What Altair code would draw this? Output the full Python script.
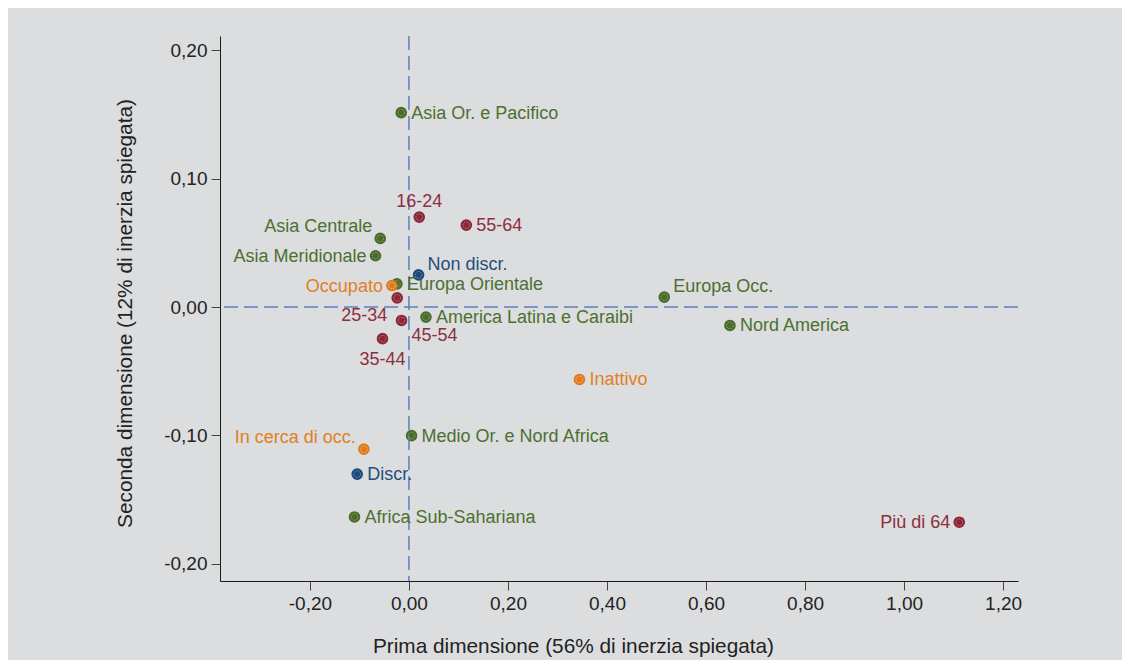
import altair as alt
import pandas as pd

# ---- data ----
labels = [
    "Asia Or. e Pacifico", "16-24", "55-64", "Asia Centrale", "Asia Meridionale",
    "Non discr.", "Europa Orientale", "Occupato", "25-34", "America Latina e Caraibi",
    "45-54", "35-44", "Europa Occ.", "Nord America", "Inattivo",
    "In cerca di occ.", "Medio Or. e Nord Africa", "Discr.", "Africa Sub-Sahariana", "Più di 64",
]
dim1 = [-0.0156, 0.0208, 0.1159, -0.0580, -0.0675,
        0.0194, -0.0243, -0.0344, -0.0237, 0.0344,
        -0.0150, -0.0534, 0.5157, 0.6483, 0.3444,
        -0.0910, 0.0053, -0.1045, -0.1100, 1.1114]
dim2 = [0.1515, 0.0701, 0.0639, 0.0535, 0.0400,
        0.0251, 0.0181, 0.0168, 0.0072, -0.0078,
        -0.0104, -0.0246, 0.0078, -0.0143, -0.0564,
        -0.1107, -0.1001, -0.1301, -0.1635, -0.1676]
groups = ["Area", "Età", "Età", "Area", "Area",
          "Discriminazione", "Area", "Condizione", "Età", "Area",
          "Età", "Età", "Area", "Area", "Condizione",
          "Condizione", "Area", "Discriminazione", "Area", "Età"]

x_ticks = [-0.2, 0.0, 0.2, 0.4, 0.6, 0.8, 1.0, 1.2]
y_ticks = [-0.2, -0.1, 0.0, 0.1, 0.2]
x_title = "Prima dimensione (56% di inerzia spiegata)"
y_title = "Seconda dimensione (12% di inerzia spiegata)"

# ---- styling (kept apart from the data) ----
group_order = ["Area", "Età", "Discriminazione", "Condizione"]
dot_colors = ["#4a6b2b", "#8a2636", "#1c4a78", "#e07a1e"]
ring_colors = ["#8aa86c", "#c77885", "#6e95bd", "#f6bb80"]
text_colors = ["#4d7030", "#8c2f3e", "#1f4f7d", "#e0801f"]

label_place = {
    "Asia Or. e Pacifico": "r", "16-24": "t", "55-64": "r", "Asia Centrale": "tl",
    "Asia Meridionale": "l", "Non discr.": "tr", "Europa Orientale": "r",
    "Occupato": "l", "25-34": "bl", "America Latina e Caraibi": "r", "45-54": "br",
    "35-44": "b", "Europa Occ.": "tr", "Nord America": "r", "Inattivo": "r",
    "In cerca di occ.": "tl", "Medio Or. e Nord Africa": "r", "Discr.": "r",
    "Africa Sub-Sahariana": "r", "Più di 64": "l",
}
place_style = {
    "r": dict(align="left", dx=10, dy=1),
    "l": dict(align="right", dx=-9, dy=1),
    "t": dict(align="center", dx=0, dy=-15),
    "b": dict(align="center", dx=0, dy=21),
    "tl": dict(align="right", dx=-8, dy=-11),
    "tr": dict(align="left", dx=9, dy=-10),
    "bl": dict(align="right", dx=-10, dy=18),
    "br": dict(align="left", dx=10, dy=16),
}

df = pd.DataFrame({"label": labels, "d1": dim1, "d2": dim2, "group": groups})
df["place"] = df["label"].map(label_place)

FONT = "Liberation Sans"
label_expr = "replace(replace(format(datum.value, '.2f'), '.', ','), '\u2212', '-')"

xscale = alt.Scale(domain=[-0.3816, 1.2301], nice=False, zero=False)
yscale = alt.Scale(domain=[-0.2134, 0.2112], nice=False, zero=False)

x_enc = alt.X("d1:Q", scale=xscale, title=x_title,
              axis=alt.Axis(values=x_ticks, labelExpr=label_expr, grid=False,
                            tickSize=9, labelPadding=4, labelFontSize=19,
                            titleFontSize=20.8, titleX=353, titleY=65,
                            titleBaseline="middle", titleAlign="center",
                            domainColor="#1a1a1a", tickColor="#444",
                            labelColor="#222", titleColor="#222",
                            labelFont=FONT, titleFont=FONT, titleFontWeight="normal"))
y_enc = alt.Y("d2:Q", scale=yscale, title=y_title,
              axis=alt.Axis(values=y_ticks, labelExpr=label_expr, grid=False,
                            tickSize=9, labelPadding=4, labelFontSize=19,
                            titleFontSize=20.8, titleX=-95, titleY=277, titleAngle=270,
                            titleBaseline="middle", titleAlign="center",
                            domainColor="#1a1a1a", tickColor="#444",
                            labelColor="#222", titleColor="#222",
                            labelFont=FONT, titleFont=FONT, titleFontWeight="normal"))

base = alt.Chart(df)

zero_df = pd.DataFrame({"v": [0.0]})
vrule = alt.Chart(zero_df).mark_rule(color="#5a80c0", strokeWidth=1.5, strokeDash=[14, 6]).encode(
    x=alt.X("v:Q", scale=xscale))
hrule = alt.Chart(zero_df).mark_rule(color="#5a80c0", strokeWidth=1.5, strokeDash=[14, 6]).encode(
    y=alt.Y("v:Q", scale=yscale))

dots = base.mark_circle(size=135, opacity=1).encode(
    x=x_enc, y=y_enc,
    color=alt.Color("group:N", scale=alt.Scale(domain=group_order, range=dot_colors), legend=None),
)
rings = base.mark_point(shape="circle", size=45, filled=False, strokeWidth=1,
                        strokeDash=[1.5, 1], opacity=1).encode(
    x="d1:Q", y="d2:Q",
    color=alt.Color("group:N", scale=alt.Scale(domain=group_order, range=ring_colors), legend=None),
)

text_layers = []
for key, st in place_style.items():
    t = base.transform_filter(alt.datum.place == key).mark_text(
        font=FONT, fontSize=18, baseline="middle", **st
    ).encode(
        x="d1:Q", y="d2:Q", text="label:N",
        color=alt.Color("group:N", scale=alt.Scale(domain=group_order, range=text_colors), legend=None),
    )
    text_layers.append(t)

chart = alt.layer(dots, vrule, hrule, rings, *text_layers).resolve_scale(color="independent").properties(
    width=798, height=545,
    padding={"left": 212, "top": 28, "right": 104, "bottom": 79},
    autosize=alt.AutoSizeParams(type="none"),
    background="#dcdddf",
).configure_view(stroke=None)

chart.save("out.html", embed_options={"renderer": "svg", "actions": False})
